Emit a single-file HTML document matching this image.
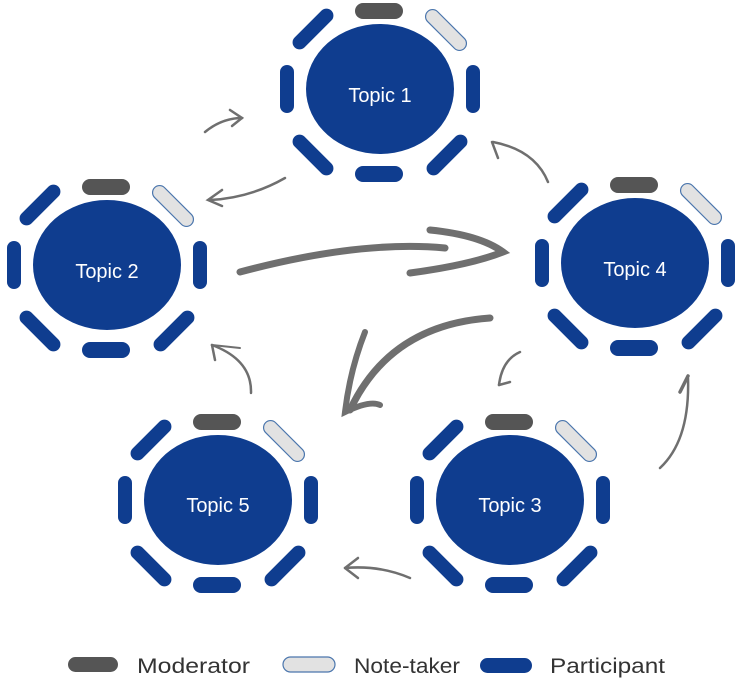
<!DOCTYPE html>
<html><head><style>
html,body{margin:0;padding:0;background:#fff;}
svg{display:block;}
text{font-family:"Liberation Sans",sans-serif;}
</style></head><body>
<svg width="748" height="686" viewBox="0 0 748 686" xmlns="http://www.w3.org/2000/svg">
<defs>
<g id="tbl">
  <ellipse cx="0" cy="0" rx="74" ry="65" fill="#0f3d8f"/>
  <rect x="-25" y="-86" width="48" height="16" rx="8" fill="#555"/>
  <rect x="-25" y="77" width="48" height="16" rx="8" fill="#0f3d8f"/>
  <rect x="-100" y="-24" width="14" height="48" rx="7" fill="#0f3d8f"/>
  <rect x="86" y="-24" width="14" height="48" rx="7" fill="#0f3d8f"/>
  <rect x="-26" y="-7" width="52" height="14" rx="7" fill="#0f3d8f" transform="translate(-67,-60) rotate(-45)"/>
  <rect x="-26" y="-7" width="52" height="14" rx="7" fill="#e2e2e2" stroke="#4b76ad" stroke-width="1.2" transform="translate(66,-59) rotate(45)"/>
  <rect x="-26" y="-7" width="52" height="14" rx="7" fill="#0f3d8f" transform="translate(-67,66) rotate(45)"/>
  <rect x="-26" y="-7" width="52" height="14" rx="7" fill="#0f3d8f" transform="translate(67,66) rotate(-45)"/>
</g>
</defs>
<g fill="none" stroke="#6f6f6f" stroke-linecap="round">
  <path d="M205,132 Q222,118 242,118" stroke-width="2.5"/><path d="M230,110 L242,118 L232,126" stroke-width="2.5"/>
  <path d="M285,178 Q250,198 210,200" stroke-width="2.5"/><path d="M222,190 L208,200 L222,206" stroke-width="2.5"/>
  <path d="M548,182 Q535,150 493,142" stroke-width="2.5"/><path d="M492,142 L498,158" stroke-width="2.5"/>
  <path d="M251,393 Q252,360 212,345" stroke-width="2.5"/><path d="M212,345 L215,360" stroke-width="2.5"/><path d="M212,345 L240,348" stroke-width="2"/>
  <path d="M410,578 Q380,565 345,568" stroke-width="2.5"/><path d="M345,568 L358,558 M345,568 L358,578" stroke-width="2.5"/>
  <path d="M520,352 Q502,360 499,385" stroke-width="2.5"/><path d="M499,385 L510,382" stroke-width="2.5"/>
  <path d="M660,468 Q690,440 688,378" stroke-width="2.5"/><path d="M688,376 L680,392" stroke-width="3.5"/>
  <path d="M240,272 Q360,240 445,248" stroke-width="7"/>
  <path d="M430,230 Q480,235 503,252 Q470,265 410,273" stroke-width="7"/>
  <path d="M490,318 Q390,325 350,410" stroke-width="7"/>
  <path d="M365,332 Q350,370 345,412 Q370,400 380,405" stroke-width="6"/>
</g>
<use href="#tbl" x="380" y="89"/>
<use href="#tbl" x="107" y="265"/>
<use href="#tbl" x="635" y="263"/>
<use href="#tbl" x="218" y="500"/>
<use href="#tbl" x="510" y="500"/>
<g fill="#fff" font-size="20" text-anchor="middle">
  <text x="380" y="102">Topic 1</text>
  <text x="107" y="278">Topic 2</text>
  <text x="635" y="276">Topic 4</text>
  <text x="218" y="512">Topic 5</text>
  <text x="510" y="512">Topic 3</text>
</g>
<rect x="68" y="657" width="50" height="15" rx="7.5" fill="#555"/>
<rect x="283" y="657" width="52" height="15" rx="7.5" fill="#e2e2e2" stroke="#4b76ad" stroke-width="1.2"/>
<rect x="480" y="658" width="52" height="15" rx="7.5" fill="#0f3d8f"/>
<g fill="#333" font-size="21">
  <text x="137" y="673" textLength="113" lengthAdjust="spacingAndGlyphs">Moderator</text>
  <text x="354" y="673" textLength="106" lengthAdjust="spacingAndGlyphs">Note-taker</text>
  <text x="550" y="673" textLength="115" lengthAdjust="spacingAndGlyphs">Participant</text>
</g>
</svg>
</body></html>
